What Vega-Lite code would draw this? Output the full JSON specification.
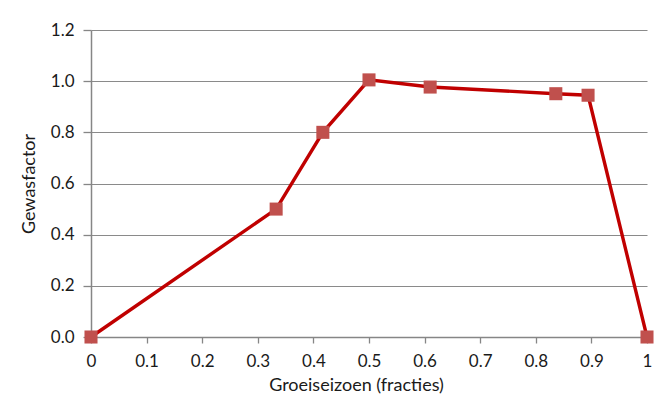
{
  "$schema": "https://vega.github.io/schema/vega-lite/v6.json",
  "autosize": {"type": "none"},
  "width": 556,
  "height": 307,
  "padding": {"left": 91, "top": 30, "right": 17, "bottom": 65},
  "background": "white",
  "config": {
    "view": {"stroke": null},
    "font": "Lato",
    "axis": {
      "labelFont": "Lato",
      "titleFont": "Lato",
      "labelColor": "#1a1a1a",
      "titleColor": "#1a1a1a",
      "labelFontSize": 17,
      "titleFontSize": 18,
      "titleFontWeight": "normal",
      "domainColor": "#868686",
      "tickColor": "#868686",
      "gridColor": "#8a8a8a",
      "gridWidth": 1.2,
      "domainWidth": 1.5,
      "tickWidth": 1.3
    }
  },
  "data": {
    "values": [
      {"fractie": 0, "factor": 0},
      {"fractie": 0.333, "factor": 0.5},
      {"fractie": 0.417, "factor": 0.8},
      {"fractie": 0.5, "factor": 1.005},
      {"fractie": 0.61, "factor": 0.977},
      {"fractie": 0.836, "factor": 0.951},
      {"fractie": 0.894, "factor": 0.945},
      {"fractie": 1, "factor": 0}
    ]
  },
  "encoding": {
    "x": {
      "field": "fractie",
      "type": "quantitative",
      "scale": {"domain": [0, 1], "nice": false, "zero": false},
      "axis": {
        "title": "Groeiseizoen (fracties)",
        "values": [0, 0.1, 0.2, 0.3, 0.4, 0.5, 0.6, 0.7, 0.8, 0.9, 1],
        "format": "~g",
        "grid": false,
        "tickSize": 6,
        "labelPadding": 10,
        "titlePadding": 7,
        "titleX": 265,
        "labelFlush": false
      }
    },
    "y": {
      "field": "factor",
      "type": "quantitative",
      "scale": {"domain": [0, 1.2], "nice": false},
      "axis": {
        "title": "Gewasfactor",
        "values": [0, 0.2, 0.4, 0.6, 0.8, 1.0, 1.2],
        "format": ".1f",
        "grid": true,
        "tickSize": 8,
        "labelPadding": 9,
        "titlePadding": 12,
        "labelFlush": false
      }
    }
  },
  "layer": [
    {
      "mark": {"type": "line", "color": "#C00000", "strokeWidth": 3.4}
    },
    {
      "mark": {"type": "point", "shape": "square", "filled": true, "color": "#C0504D", "opacity": 1, "size": 170}
    }
  ]
}
